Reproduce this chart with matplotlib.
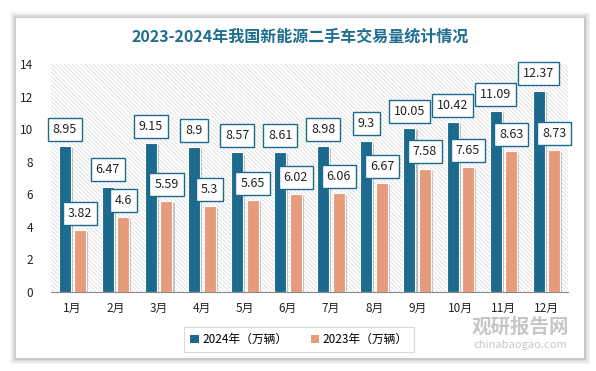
import matplotlib.pyplot as plt
import numpy as np
from matplotlib.patches import Rectangle
import matplotlib.patheffects as pe

plt.rcParams['font.family'] = ['Noto Sans CJK SC', 'DejaVu Sans']
plt.rcParams['hatch.color'] = '#d6d6d6'
plt.rcParams['hatch.linewidth'] = 0.5

# 数据
months = ['1月', '2月', '3月', '4月', '5月', '6月', '7月', '8月', '9月', '10月', '11月', '12月']
vol_2024 = [8.95, 6.47, 9.15, 8.9, 8.57, 8.61, 8.98, 9.3, 10.05, 10.42, 11.09, 12.37]
vol_2023 = [3.82, 4.6, 5.59, 5.3, 5.65, 6.02, 6.06, 6.67, 7.58, 7.65, 8.63, 8.73]

c24 = '#1c6b8e'
c23 = '#e69b7b'

W, H = 596, 371
fig = plt.figure(figsize=(W / 100, H / 100), dpi=100, facecolor='white')

# 卡片阴影 + 白底
for i, a in enumerate([0.04, 0.05, 0.06, 0.08]):
    d = 6 - i * 1.5
    fig.patches.append(Rectangle(((16 - d) / W, 1 - (358 + d) / H), (568 + 2 * d) / W, (340 + 2 * d) / H,
                                 transform=fig.transFigure, facecolor='black', alpha=a,
                                 edgecolor='none', zorder=-3))
fig.patches.append(Rectangle((16 / W, 1 - 358 / H), 568 / W, 340 / H, transform=fig.transFigure,
                             facecolor='white', edgecolor='none', zorder=-2))

fig.text(300 / W, 1 - 37 / H, '2023-2024年我国新能源二手车交易量统计情况', ha='center', va='center',
         fontsize=11.5, fontweight='bold', color='#1f6e91')

ax = fig.add_axes([51 / W, 1 - 292 / H, 517 / W, 228 / H])
ax.set_facecolor('none')
x = np.arange(len(months))
ax.set_xlim(-0.5, len(months) - 0.5)
ax.set_ylim(0, 14)

# 斜线背景
ax.add_patch(Rectangle((-0.5, 0), len(months), 14, facecolor='white', edgecolor='#d6d6d6',
                       hatch='\\' * 8, linewidth=0, zorder=0))

shadow = [pe.SimplePatchShadow(offset=(1.5, -1.5), alpha=0.25), pe.Normal()]
off, bw = 0.18, 0.28
b1 = ax.bar(x - off, vol_2024, bw, color=c24, edgecolor='white', linewidth=0.8, zorder=2,
            label='2024年（万辆）')
b2 = ax.bar(x + off, vol_2023, bw, color=c23, edgecolor='white', linewidth=0.8, zorder=2,
            label='2023年（万辆）')
for b in list(b1) + list(b2):
    b.set_path_effects(shadow)

box = dict(boxstyle='square,pad=0.4', facecolor='white', edgecolor=c24, linewidth=1.0)
for xs, vals in ((x - off, vol_2024), (x + off, vol_2023)):
    for xi, v in zip(xs, vals):
        ax.annotate(f'{v:g}', (xi, v), xytext=(0, 12), textcoords='offset points',
                    ha='center', va='center', fontsize=9, color='#222222', bbox=box, zorder=4)

for s in ['left', 'top', 'right']:
    ax.spines[s].set_visible(False)
ax.spines['bottom'].set_color('#888888')
ax.set_yticks(range(0, 15, 2))
ax.set_xticks(x)
ax.set_xticklabels(months)
ax.tick_params(axis='both', length=0, labelsize=8.5, colors='#222222')
ax.tick_params(axis='y', pad=13)
ax.tick_params(axis='x', pad=7)

leg = fig.legend(handles=[b1, b2], loc='center', bbox_to_anchor=(299 / W, 1 - 339.5 / H), ncol=2,
                 fontsize=8.5, frameon=True, fancybox=False, edgecolor='#d0d0d0',
                 handlelength=0.7, handleheight=0.7, handletextpad=0.3, columnspacing=2.0,
                 borderpad=0.5)
leg.get_frame().set_linewidth(0.8)
for h in leg.legend_handles:
    h.set_path_effects([])
    h.set_edgecolor('none')

# 水印
fig.text(520 / W, 1 - 327 / H, '观研报告网', ha='center', va='center', fontsize=14,
         fontweight='bold', color='#b8b8b8', alpha=0.8)
fig.text(520 / W, 1 - 345 / H, 'chinabaogao.com', ha='center', va='center', fontsize=8,
         color='#b8b8b8', alpha=0.8)

fig.savefig('out.png', dpi=100, facecolor='white')
